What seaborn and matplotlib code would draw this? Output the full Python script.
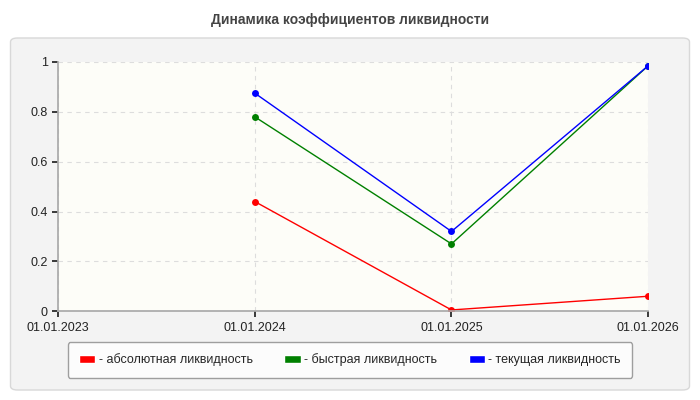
import matplotlib
matplotlib.use("Agg")
import matplotlib.pyplot as plt
import seaborn as sns
import pandas as pd
from matplotlib.patches import FancyBboxPatch, Rectangle

dates = ["01.01.2024", "01.01.2025", "01.01.2026"]
xticks = ["01.01.2023", "01.01.2024", "01.01.2025", "01.01.2026"]
absolute = [0.44, 0.005, 0.06]
quick = [0.78, 0.27, 0.985]
current = [0.875, 0.32, 0.985]
names = ["- абсолютная ликвидность", "- быстрая ликвидность", "- текущая ликвидность"]
colors = ["#ff0000", "#008000", "#0000ff"]

sns.set_theme(style="white")
plt.rcParams['font.family'] = ['Liberation Sans', 'DejaVu Sans']

rows = []
for n, vals in zip(names, [absolute, quick, current]):
    for d, v in zip(dates, vals):
        rows.append({"x": xticks.index(d), "y": v, "s": n})
df = pd.DataFrame(rows)

fig = plt.figure(figsize=(7, 4), dpi=100)
fig.patch.set_facecolor("white")
bg = FancyBboxPatch((0.015, 0.025), 0.97, 0.88, boxstyle="round,pad=0,rounding_size=0.01",
                    transform=fig.transFigure, facecolor="#f3f3f3", edgecolor="#d8d8d8", lw=1, zorder=-10)
fig.patches.append(bg)
fig.text(0.5, 0.95, "Динамика коэффициентов ликвидности", ha="center", va="center",
         fontsize=10, fontweight="bold", color="#444444")

ax = fig.add_axes([0.083, 0.222, 0.843, 0.623])
ax.set_facecolor("#fdfdf8")
sns.lineplot(data=df, x="x", y="y", hue="s", palette=colors, marker="o", markersize=5,
             markeredgewidth=0, lw=1, ax=ax, legend=False)
ax.set_xlim(0, 3)
ax.set_ylim(0, 1)
ax.set_xticks(range(4))
ax.set_xticklabels(xticks)
ax.set_yticks([0, 0.2, 0.4, 0.6, 0.8, 1])
ax.set_yticklabels(["0", "0.2", "0.4", "0.6", "0.8", "1"])
ax.tick_params(labelsize=9, colors="#222222", length=4, direction="out", left=True, bottom=True)
ax.grid(True, color="#dddddd", ls=(0, (4, 4)), lw=0.8)
for s in ["top", "right"]:
    ax.spines[s].set_visible(False)
for s in ["left", "bottom"]:
    ax.spines[s].set_color("#aaaaaa")
ax.set_xlabel("")
ax.set_ylabel("")

handles = [Rectangle((0, 0), 1, 1, facecolor=c) for c in colors]
leg = fig.legend(handles, names, loc="center", bbox_to_anchor=(0.5, 0.1), ncol=3, fontsize=9,
                 frameon=True, fancybox=True, edgecolor="#888888", facecolor="white",
                 handlelength=1.3, handleheight=0.7, handletextpad=0.3, columnspacing=2.5, borderpad=0.9)
fig.savefig("out.png", dpi=100)
